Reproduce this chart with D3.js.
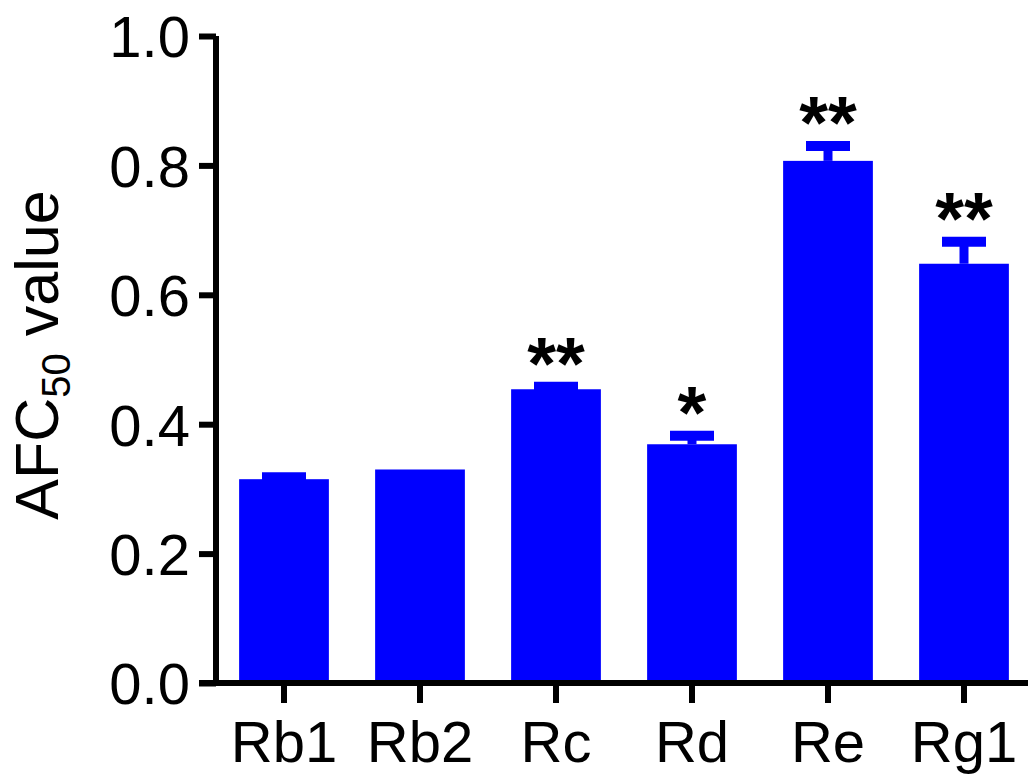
<!DOCTYPE html>
<html>

<head>
    <title>AFC50 bar chart</title>
    <script src="https://d3js.org/d3.v7.min.js"></script>
    <meta http-equiv="Content-Type" content="text/html; charset=utf-8">
    <style>
        body { margin: 0; background: #fff; }
        text { font-family: "Liberation Sans", Arial, sans-serif; }
    </style>
</head>

<body>
    <script>
        // values
        const categories = ["Rb1", "Rb2", "Rc", "Rd", "Re", "Rg1"];
        const means = [0.315, 0.330, 0.454, 0.369, 0.807, 0.648];
        const errors = [0.003, 0.000, 0.004, 0.013, 0.023, 0.034];
        const stars = ["", "", "**", "*", "**", "**"];
        const yTicks = [0.0, 0.2, 0.4, 0.6, 0.8, 1.0];

        const data = categories.map((c, i) => ({
            name: c, mean: means[i], err: errors[i], star: stars[i]
        }));

        const width = 1028;
        const height = 776;

        const svg = d3.select("body")
            .append("svg")
            .attr("width", width)
            .attr("height", height);

        const xScale = d3.scaleBand()
            .domain(categories)
            .range([216, 1032])
            .paddingInner(0.34)
            .paddingOuter(0.17);

        const yScale = d3.scaleLinear()
            .domain([0, 1])
            .range([683, 36]);

        // bars
        svg.selectAll(".bar")
            .data(data)
            .enter()
            .append("rect")
            .attr("class", "bar")
            .attr("x", d => xScale(d.name))
            .attr("y", d => yScale(d.mean))
            .attr("width", xScale.bandwidth())
            .attr("height", d => yScale(0) - yScale(d.mean))
            .attr("fill", "#0000ff");

        // error bars (upper only)
        const eb = svg.selectAll(".err")
            .data(data.filter(d => d.err > 0))
            .enter()
            .append("g")
            .attr("class", "err");

        eb.append("line")
            .attr("x1", d => xScale(d.name) + xScale.bandwidth() / 2)
            .attr("x2", d => xScale(d.name) + xScale.bandwidth() / 2)
            .attr("y1", d => yScale(d.mean))
            .attr("y2", d => yScale(d.mean + d.err))
            .attr("stroke", "#0000ff")
            .attr("stroke-width", 9);

        eb.append("line")
            .attr("x1", d => xScale(d.name) + xScale.bandwidth() / 2 - 22)
            .attr("x2", d => xScale(d.name) + xScale.bandwidth() / 2 + 22)
            .attr("y1", d => yScale(d.mean + d.err))
            .attr("y2", d => yScale(d.mean + d.err))
            .attr("stroke", "#0000ff")
            .attr("stroke-width", 10);

        // significance stars
        svg.selectAll(".star")
            .data(data.filter(d => d.star))
            .enter()
            .append("text")
            .attr("class", "star")
            .attr("x", d => xScale(d.name) + xScale.bandwidth() / 2)
            .attr("y", d => yScale(d.mean + d.err) + 2)
            .attr("text-anchor", "middle")
            .attr("font-size", 74)
            .attr("font-weight", "bold")
            .attr("fill", "#000")
            .text(d => d.star);

        // y axis
        const yAxis = svg.append("g")
            .attr("transform", "translate(216,0)")
            .call(d3.axisLeft(yScale)
                .tickValues(yTicks)
                .tickFormat(d3.format(".1f"))
                .tickSize(17)
                .tickPadding(9)
                .tickSizeOuter(0));
        yAxis.select(".domain")
            .attr("stroke-width", 6)
            .attr("d", "M0," + (yScale(0) + 3) + "V" + yScale(1));
        yAxis.selectAll(".tick line").attr("stroke-width", 6);
        yAxis.selectAll(".tick text")
            .attr("font-size", 58)
            .attr("font-family", "Liberation Sans, Arial, sans-serif")
            .attr("dy", "0.36em");

        // x axis
        const xAxis = svg.append("g")
            .attr("transform", "translate(0," + yScale(0) + ")")
            .call(d3.axisBottom(xScale)
                .tickSize(20)
                .tickPadding(18)
                .tickSizeOuter(0));
        xAxis.select(".domain")
            .attr("stroke-width", 6)
            .attr("d", "M199,0H1028");
        xAxis.selectAll(".tick line").attr("stroke-width", 6);
        xAxis.selectAll(".tick text")
            .attr("font-size", 58)
            .attr("font-family", "Liberation Sans, Arial, sans-serif");

        // y axis title with subscript
        const title = svg.append("text")
            .attr("transform", "translate(58,355) rotate(-90)")
            .attr("text-anchor", "middle")
            .attr("font-size", 61)
            .attr("fill", "#000");
        title.append("tspan").text("AFC");
        title.append("tspan").attr("font-size", 40).attr("dy", 12).text("50");
        title.append("tspan").attr("dy", -12).text(" value");
    </script>
</body>

</html>
